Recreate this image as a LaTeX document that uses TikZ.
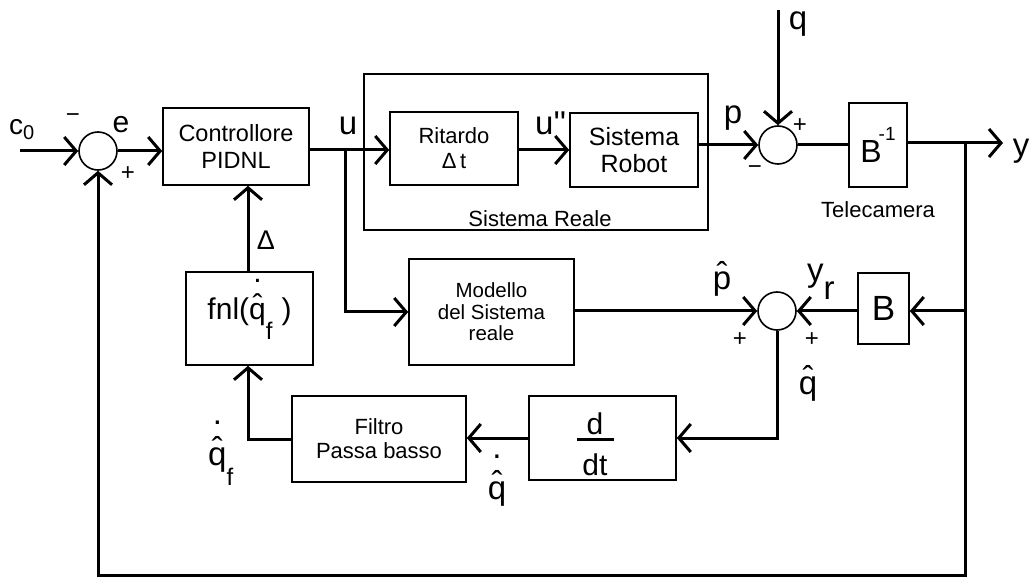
\documentclass[tikz,border=0pt]{standalone}
\usepackage{fontspec}
\setmainfont{Liberation Sans}
\usetikzlibrary{arrows.meta}
\newcommand{\fs}[1]{\fontsize{#1}{#1}\selectfont}
\newcommand{\qh}{\ooalign{q\cr\hidewidth\raisebox{0.15em}{ˆ}\hidewidth\cr}}
\newcommand{\ph}{\ooalign{p\cr\hidewidth\raisebox{0.15em}{ˆ}\hidewidth\cr}}
\newcommand{\qhd}{\ooalign{q\cr\hidewidth\raisebox{0.14em}{ˆ}\hidewidth\cr\hidewidth\raisebox{1.22em}{.}\hidewidth\cr}}
\begin{document}
\begin{tikzpicture}[x=1pt,y=-1pt,
 blk/.style={draw,line width=1.6pt,inner sep=0pt,align=center},
 sumc/.style={draw,circle,line width=1.6pt,minimum size=38pt,inner sep=0pt},
 wire/.style={line width=3pt},
 con/.style={wire,-{Straight Barb[length=12pt,width=28pt]}},
 lbl/.style={inner sep=0pt,anchor=base,font=\fs{33}},
 sgn/.style={inner sep=0pt,font=\fs{24}},
 txt/.style={inner sep=0pt,anchor=base,font=\fs{22}},
]
\useasboundingbox (0,0) rectangle (1029,580);

% blocks
\node[blk,minimum width=146pt,minimum height=77pt,font=\fontsize{23.5}{27}\selectfont] (ctrl) at (236,146.5) {Controllore\\PIDNL};
\node[blk,minimum width=344pt,minimum height=156pt] (reale) at (536,152) {};
\node[blk,minimum width=128pt,minimum height=73pt,font=\fontsize{22}{25}\selectfont] (rit) at (454,148.5) {Ritardo\\Δ\,t};
\node[blk,minimum width=128pt,minimum height=74pt,font=\fontsize{25}{27}\selectfont] (rob) at (634,150) {Sistema\\Robot};
\node[blk,minimum width=58pt,minimum height=84pt,font=\fs{32}] (binv) at (878,145) {B\hspace{-3pt}\raisebox{0.7em}{\fs{19}-1}};
\node[blk,minimum width=51pt,minimum height=71pt,font=\fs{35}] (bb) at (883.5,308.5) {B};
\node[blk,minimum width=165pt,minimum height=106pt,font=\fontsize{20.5}{21.5}\selectfont] (mod) at (491.5,312) {Modello\\del Sistema\\reale};
\node[blk,minimum width=127pt,minimum height=93pt,font=\fs{30}] (fnl) at (249.5,318.5) {fnl(\qhd\raisebox{-20pt}{\fs{24}f}\hspace{0.3em})};
\node[blk,minimum width=174pt,minimum height=86pt,font=\fontsize{22}{24}\selectfont] (filt) at (379,439) {Filtro\\Passa basso};
\node[blk,minimum width=147pt,minimum height=84pt] (ddt) at (602.5,438) {};
\node[inner sep=0pt,font=\fs{30}] (ddtf) at (595,444) {\shortstack{d\\\rule{37pt}{3pt}\\[10pt]dt}};

% summing junctions
\node[sumc] (s1) at (98,151) {};
\node[sumc] (s2) at (778,145) {};
\node[sumc] (s3) at (777,311) {};

% free ends and corners
\coordinate (c0) at (20,151);
\coordinate (ub) at (345,150);
\coordinate (qin) at (778,10);
\coordinate (yout) at (1003,143);
\coordinate (yb) at (965,143);
\coordinate (br) at (965,575);
\coordinate (bl) at (98,575);
\coordinate (bB) at (965,311);
\coordinate (qc) at (777,438);
\coordinate (fc) at (248,439);

% connectors
\draw[con] (c0) -- (s1.west);
\draw[con] (s1.east) -- (s1.east -| ctrl.west);
\draw[con] (ub -| ctrl.east) -- (ub -| rit.west);
\draw[con] (rit.east |- ub) -- (rob.west |- ub);
\draw[con] (rob.east |- s2) -- (s2.west);
\draw[con] (qin) -- (s2.north);
\draw[wire] (s2.east) -- (s2.east -| binv.west);
\draw[con] (binv.east |- yout) -- (yout);
\draw[con] (yb) -- (br) -- (bl) -- (s1.south);
\draw[con] (bB) -- (bb.east |- bB);
\draw[con] (bb.west |- s3) -- (s3.east);
\draw[con] (ub) -- (ub |- mod) -- (mod.west);
\draw[con] (mod.east |- s3) -- (s3.west);
\draw[con] (s3.south) -- (qc) -- (ddt.east |- qc);
\draw[con] (ddt.west |- qc) -- (filt.east |- qc);
\draw[con] (filt.west |- fc) -- (fc) -- (fnl.south -| fc);
\draw[con] (fnl.north -| fc) -- (ctrl.south -| fc);

% labels
\node[lbl,anchor=base west,font=\fs{28}] (lc0) at (9,135) {c\raisebox{-5pt}{\fs{20}0}};
\node[sgn] (m1) at (73,118) {−};
\node[lbl,font=\fs{30}] (le) at (121,133) {e};
\node[sgn] (p1) at (128,174) {+};
\node[lbl] (lu) at (348,135) {u};
\node[lbl,anchor=base west] (lu2) at (535,135) {u\textquotesingle\textquotesingle};
\node[lbl] (lp) at (733,124) {p};
\node[lbl] (lq) at (798,30) {q};
\node[sgn] (p2) at (800,126) {+};
\node[sgn] (m2) at (755,170) {−};
\node[lbl] (ly) at (1021,157) {y};
\node[txt] (tel) at (878,218) {Telecamera};
\node[txt] (lreale) at (540,227) {Sistema Reale};
\node[lbl,font=\fs{27}] (ldelta) at (266,250) {Δ};
\node[lbl] (lph) at (722,290) {\ph};
\node[lbl,anchor=base west] (lyr) at (807,282) {y\raisebox{-18pt}{r}};
\node[sgn] (p3) at (740,340) {+};
\node[sgn] (p4) at (812,340) {+};
\node[lbl] (lqh) at (808,394) {\qh};
\node[lbl] (lqhd) at (497,499) {\qhd};
\node[lbl,anchor=base west] (lqf) at (208,465) {\qhd\raisebox{-20pt}{\fs{24}f}};
\end{tikzpicture}
\end{document}
